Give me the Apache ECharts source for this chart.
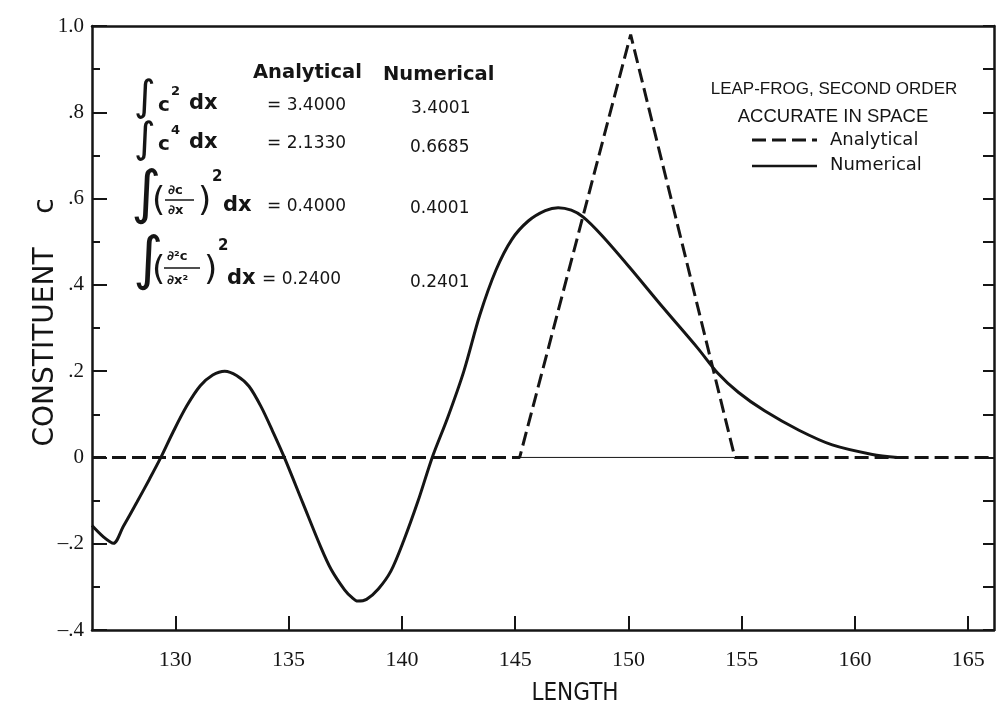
<!DOCTYPE html>
<html>
<head>
<meta charset="utf-8">
<script src="https://cdn.jsdelivr.net/npm/echarts@6/dist/echarts.min.js"></script>
<style>
html,body{margin:0;padding:0;background:#fff;}
#chart{width:999px;height:715px;}
</style>
</head>
<body>
<div id="chart"></div>
<script>
// ---- data ----
const xTickValues = [130, 135, 140, 145, 150, 155, 160, 165];
const yTickValues = [-0.4, -0.2, 0, 0.2, 0.4, 0.6, 0.8, 1.0];
const yTickLabels = ['\u2013.4', '\u2013.2', '0', '.2', '.4', '.6', '.8', '1.0'];

const analyticalX = [126.32, 145.2, 150.1, 154.7, 166.14];
const analyticalC = [0, 0, 0.98, 0, 0];

const numericalX = [126.32, 126.80, 127.27, 127.70, 128.30, 128.85, 129.36, 129.90, 130.50, 131.10,
  131.65, 132.18, 132.70, 133.25, 133.80, 134.30, 134.81, 135.63, 136.42, 136.88,
  137.47, 137.78, 138.05, 138.44, 138.96, 139.52, 140.08, 140.72, 141.34, 142.02,
  142.73, 143.44, 144.16, 144.85, 145.58, 146.33, 146.90, 147.48, 148.01, 148.82,
  150.03, 151.52, 153.05, 153.95, 154.85, 156.01, 157.53, 159.00, 160.77, 161.88];
const numericalC = [-0.158, -0.183, -0.199, -0.160, -0.104, -0.051, 0.0, 0.059, 0.119, 0.166,
  0.191, 0.200, 0.190, 0.165, 0.116, 0.060, 0.0, -0.106, -0.208, -0.260,
  -0.307, -0.324, -0.333, -0.329, -0.305, -0.263, -0.193, -0.100, 0.0, 0.092,
  0.199, 0.330, 0.435, 0.505, 0.548, 0.572, 0.579, 0.573, 0.557, 0.515,
  0.442, 0.348, 0.254, 0.195, 0.151, 0.108, 0.063, 0.029, 0.007, 0.0];

const baselineX = [145.2, 154.7];
const baselineC = [0, 0];

const xMin = 126.32, xMax = 166.14;
const yMin = -0.4, yMax = 1.0;

// ---- build ----
const zip = (xs, ys) => xs.map((x, i) => [x, ys[i]]);
const INK = '#151515';
const chart = echarts.init(document.getElementById('chart'), null, {renderer: 'canvas'});

function yLabel(v) {
  let best = 0, bd = 1e9;
  yTickValues.forEach((t, i) => { const d = Math.abs(t - v); if (d < bd) { bd = d; best = i; } });
  return bd < 1e-6 ? yTickLabels[best] : '';
}

const sansFont = '"DejaVu Sans", sans-serif';
function txt(text, x, y, size, opts) {
  opts = opts || {};
  return {
    type: 'text', x: x, y: y, rotation: opts.rotation || 0, silent: true,
    style: {
      text: text, fill: INK,
      font: (opts.weight || 'normal') + ' ' + size + 'px ' + (opts.family || sansFont),
      align: opts.align || 'left', verticalAlign: 'middle'
    }
  };
}
function hline(x1, x2, y, w, dash) {
  return { type: 'line', silent: true, shape: {x1: x1, y1: y, x2: x2, y2: y},
    style: {stroke: INK, lineWidth: w, lineDash: dash || null} };
}

const capsFont = '"Liberation Sans", Arial, sans-serif';
const graphics = [
  // header
  txt('Analytical', 253, 73, 19.5, {weight: 'bold'}),
  txt('Numerical', 383, 75, 19.5, {weight: 'bold'}),
  // row 1
  txt('\u222B', 134, 99, 42),
  txt('c', 158, 106, 20, {weight: 'bold'}),
  txt('2', 171, 92, 13, {weight: 'bold'}),
  txt('dx', 189, 104, 21, {weight: 'bold'}),
  txt('= 3.4000', 267, 106, 17),
  txt('3.4001', 411, 109, 17),
  // row 2
  txt('\u222B', 134, 141, 42),
  txt('c', 158, 145, 20, {weight: 'bold'}),
  txt('4', 171, 131, 13, {weight: 'bold'}),
  txt('dx', 189, 143, 21, {weight: 'bold'}),
  txt('= 2.1330', 267, 144, 17),
  txt('0.6685', 410, 148, 17),
  // row 3
  txt('\u222B', 131, 197, 58),
  txt('(', 152, 202, 34),
  txt('\u2202c', 168, 191, 13, {weight: 'bold'}),
  hline(165, 194, 200, 1.5),
  txt('\u2202x', 168, 211, 13, {weight: 'bold'}),
  txt(')', 198, 202, 34),
  txt('2', 212, 177, 15, {weight: 'bold'}),
  txt('dx', 223, 206, 21, {weight: 'bold'}),
  txt('= 0.4000', 267, 207, 17),
  txt('0.4001', 410, 209, 17),
  // row 4
  txt('\u222B', 133, 263, 58),
  txt('(', 152, 271, 34),
  txt('\u2202\u00B2c', 167, 257, 13, {weight: 'bold'}),
  hline(164, 200, 268, 1.5),
  txt('\u2202x\u00B2', 167, 281, 13, {weight: 'bold'}),
  txt(')', 204, 271, 34),
  txt('2', 218, 246, 15, {weight: 'bold'}),
  txt('dx', 227, 279, 21, {weight: 'bold'}),
  txt('= 0.2400', 262, 280, 17),
  txt('0.2401', 410, 283, 17),
  // legend block
  txt('LEAP-FROG, SECOND ORDER', 834, 89, 17, {align: 'center', family: capsFont}),
  txt('ACCURATE IN SPACE', 833, 117, 18.5, {align: 'center', family: capsFont}),
  hline(752, 817, 140, 3, [14, 6]),
  txt('Analytical', 830, 140, 18),
  hline(752, 817, 166, 2.5),
  txt('Numerical', 830, 165, 18),
  // axis titles
  txt('CONSTITUENT', 46, 347, 28, {align: 'center', rotation: Math.PI / 2}),
  txt('c', 46, 206, 28, {align: 'center', rotation: Math.PI / 2}),
  txt('LENGTH', 575, 694, 24, {align: 'center', family: '"DejaVu Sans Condensed", "DejaVu Sans", sans-serif'})
];

const option = {
  backgroundColor: '#ffffff',
  animation: false,
  grid: {left: 92, right: 5, top: 26, bottom: 85, containLabel: false},
  xAxis: [{
    type: 'value', min: xMin, max: xMax, position: 'bottom',
    axisLine: {show: true, onZero: false, lineStyle: {color: INK, width: 2.5}},
    axisTick: {show: true, inside: true, length: 14, customValues: xTickValues, lineStyle: {color: INK, width: 2}},
    axisLabel: {show: true, customValues: xTickValues, margin: 19, color: INK,
      fontFamily: '"Liberation Serif", serif', fontSize: 22, formatter: v => String(Math.round(v))},
    splitLine: {show: false}
  }, {
    type: 'value', min: xMin, max: xMax, position: 'top',
    axisLine: {show: true, onZero: false, lineStyle: {color: INK, width: 2.5}},
    axisTick: {show: false}, axisLabel: {show: false}, splitLine: {show: false}
  }],
  yAxis: [{
    type: 'value', min: yMin, max: yMax, interval: 0.2, position: 'left',
    axisLine: {show: true, onZero: false, lineStyle: {color: INK, width: 2.5}},
    axisTick: {show: true, inside: true, length: 15, lineStyle: {color: INK, width: 2}},
    minorTick: {show: true, splitNumber: 2, length: 8, lineStyle: {color: INK, width: 2}},
    axisLabel: {show: true, margin: 8, color: INK, fontFamily: '"Liberation Serif", serif',
      fontSize: 21, formatter: v => yLabel(v)},
    splitLine: {show: false}
  }, {
    type: 'value', min: yMin, max: yMax, interval: 0.1, position: 'right',
    axisLine: {show: true, onZero: false, lineStyle: {color: INK, width: 2.5}},
    axisTick: {show: true, inside: true, length: 11, lineStyle: {color: INK, width: 2}},
    axisLabel: {show: false}, splitLine: {show: false}
  }],
  series: [{
    name: 'Analytical', type: 'line', xAxisIndex: 0, yAxisIndex: 0,
    data: zip(analyticalX, analyticalC), showSymbol: false, smooth: false,
    lineStyle: {color: INK, width: 3, type: [14, 6]}, z: 3
  }, {
    name: 'Baseline', type: 'line', xAxisIndex: 0, yAxisIndex: 0,
    data: zip(baselineX, baselineC), showSymbol: false,
    lineStyle: {color: INK, width: 1}, z: 2
  }, {
    name: 'Numerical', type: 'line', xAxisIndex: 0, yAxisIndex: 0,
    data: zip(numericalX, numericalC), showSymbol: false, smooth: 0.3,
    lineStyle: {color: INK, width: 3}, z: 4
  }],
  graphic: graphics
};
chart.setOption(option);
</script>
</body>
</html>
